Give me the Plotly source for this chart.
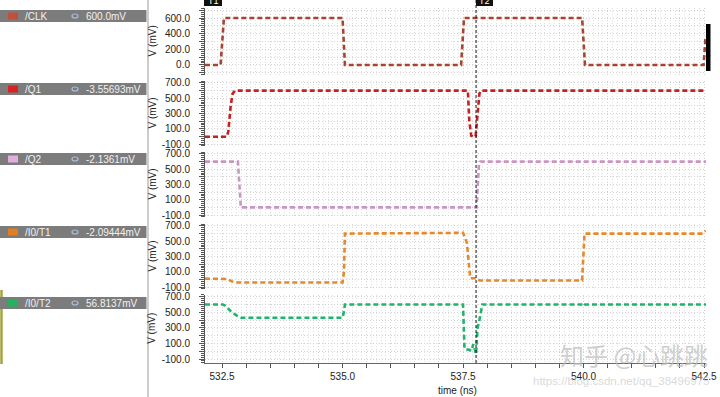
import plotly.graph_objects as go
from plotly.subplots import make_subplots

# ---------------- data ----------------
signal_names = ["/CLK", "/Q1", "/Q2", "/I0/T1", "/I0/T2"]
readouts = ["600.0mV", "-3.55693mV", "-2.1361mV", "-2.09444mV", "56.8137mV"]
line_colors = ["#a8432f", "#c81f1f", "#c995c3", "#e5892c", "#1fb46c"]
swatch_colors = ["#c0503a", "#d42424", "#e2aee0", "#e07e22", "#22b35f"]

clk_t = [532.147, 532.47, 532.54, 535.00, 535.05, 537.46, 537.52, 539.97, 540.03, 542.49, 542.53]
clk_v = [0, 0, 600, 600, 0, 0, 600, 600, 0, 0, 350]

q1_t = [532.147, 532.60, 532.63, 532.68, 532.72, 532.77, 537.60, 537.63, 537.67, 537.72, 537.76, 537.80, 537.84, 537.87, 542.54]
q1_v = [-5, -5, 60, 400, 560, 600, 600, 200, 10, -10, 0, 300, 560, 600, 600]

q2_t = [532.147, 532.83, 532.86, 532.89, 537.78, 537.80, 537.83, 537.86, 542.54]
q2_v = [600, 600, 300, 0, 0, 300, 560, 600, 600]

t1_t = [532.147, 532.55, 532.60, 532.70, 532.77, 535.00, 535.03, 535.05, 537.50, 537.58, 537.65, 537.77, 537.85, 539.97, 540.02, 542.47, 542.53]
t1_v = [10, 10, 5, -25, -40, -40, 100, 600, 610, 480, 15, 15, -15, -15, 600, 600, 640]

t2_t = [532.147, 532.52, 532.58, 532.70, 532.80, 532.90, 535.00, 535.02, 535.05, 537.50, 537.53, 537.68, 537.71, 537.73, 537.77, 537.80, 537.84, 537.90, 539.98, 540.00, 540.03, 542.54]
t2_v = [600, 600, 580, 500, 460, 430, 430, 480, 600, 600, 30, 10, 90, 60, -40, 300, 400, 600, 600, 580, 600, 600]

series_t = [clk_t, q1_t, q2_t, t1_t, t2_t]
series_v = [clk_v, q1_v, q2_v, t1_v, t2_v]

x_tick_values = [532.5 + 0.5 * i for i in range(21)]
x_label_values = [532.5, 535.0, 537.5, 540.0, 542.5]
clk_grid_values = [-100, 0, 100, 200, 300, 400, 500, 600, 700]
clk_label_values = [0, 200, 400, 600]
other_grid_values = [-100, 0, 100, 200, 300, 400, 500, 600, 700]
other_label_values = [-100, 100, 300, 500, 700]
cursor_time = 537.77
watermark = "知乎 @心跳跳"
csdn_url = "https://blog.csdn.net/qq_38496975"

# ---------------- layout helpers ----------------
W, H = 720, 397
ML, MR, MT, MB = 205, 14, 8, 34
PW = W - ML - MR
PH = H - MT - MB


def px(xp):
    return (xp - ML) / PW


def py(yp):
    return (H - MB - yp) / PH


domains = [(py(74.8), 1.0), (py(146), py(81)), (py(217), py(152)), (py(289), py(224)), (0.0, py(294.7))]
ranges = [[-126, 728], [-126, 726], [-126, 726], [-126, 726], [-151, 726]]
bar_tops = [10, 83, 153, 226, 297]

FONT = "Liberation Sans"
GRID = "#d2d2d2"
GDASH = "1px,2px"

fig = make_subplots(rows=5, cols=1, shared_xaxes=True)

for i in range(5):
    fig.add_trace(go.Scatter(
        x=series_t[i], y=series_v[i], mode="lines",
        line=dict(color=line_colors[i], width=2.6, dash="5px,3px"),
        showlegend=False, hoverinfo="skip"), row=i + 1, col=1)

for i in range(5):
    n = "" if i == 0 else str(i + 1)
    gv = clk_grid_values if i == 0 else other_grid_values
    lv = clk_label_values if i == 0 else other_label_values
    fig.layout["yaxis" + n].update(
        domain=list(domains[i]), range=ranges[i],
        tickmode="array", tickvals=gv, ticktext=[("%.1f" % v) if v in lv else "" for v in gv],
        ticks="outside", ticklen=5, tickcolor="#555", tickwidth=1,
        ticklabelstandoff=7,
        showline=True, linecolor="#555", linewidth=1,
        showgrid=True, gridcolor=GRID, griddash=GDASH, gridwidth=1,
        zeroline=False,
        tickfont=dict(family=FONT, size=10, color="#222"),
        minor=dict(tickmode="linear", tick0=0, dtick=25, ticks="outside", ticklen=3,
                   tickcolor="#555", showgrid=False),
    )
    last = (i == 4)
    fig.layout["xaxis" + n].update(
        range=[532.147, 542.54],
        tickmode="array", tickvals=x_tick_values,
        ticktext=[("%.1f" % v) if v in x_label_values else "" for v in x_tick_values],
        showticklabels=last, ticks="outside" if last else "", ticklen=4, tickcolor="#555",
        showline=last, linecolor="#666", linewidth=1,
        showgrid=True, gridcolor=GRID, griddash=GDASH, gridwidth=1,
        zeroline=False,
        tickfont=dict(family=FONT, size=10, color="#222"),
        minor=dict(tickmode="linear", tick0=532.5, dtick=0.1, ticks="", showgrid=True,
                   gridcolor="#e2e2e2", griddash=GDASH),
    )

shapes = []
annotations = []

# left panel
shapes.append(dict(type="line", xref="paper", yref="paper", x0=px(148), x1=px(148), y0=py(0), y1=py(397),
                   line=dict(color="#9a9a9a", width=1)))
shapes.append(dict(type="line", xref="paper", yref="paper", x0=px(1.5), x1=px(1.5), y0=py(290), y1=py(364),
                   line=dict(color="#a4a43c", width=2.5)))
for i in range(5):
    top = bar_tops[i]
    shapes.append(dict(type="rect", xref="paper", yref="paper", x0=px(0), x1=px(146.5), y0=py(top + 12), y1=py(top),
                       fillcolor="#7c7c7c", line=dict(width=0)))
    shapes.append(dict(type="rect", xref="paper", yref="paper", x0=px(8), x1=px(18), y0=py(top + 9.5), y1=py(top + 2.5),
                       fillcolor=swatch_colors[i], line=dict(width=0)))
    shapes.append(dict(type="circle", xref="paper", yref="paper", x0=px(72), x1=px(78), y0=py(top + 8), y1=py(top + 4),
                       fillcolor="rgba(0,0,0,0)", line=dict(color="#a9bedb", width=1.2)))
    annotations.append(dict(text=signal_names[i], xref="paper", yref="paper", x=px(23), y=py(top + 6.3),
                            xanchor="left", yanchor="middle", showarrow=False,
                            font=dict(family=FONT, size=10, color="#f2f2f2")))
    annotations.append(dict(text=readouts[i], xref="paper", yref="paper", x=px(84), y=py(top + 6.3),
                            xanchor="left", yanchor="middle", showarrow=False,
                            font=dict(family=FONT, size=10, color="#f2f2f2")))
    cy = (domains[i][0] + domains[i][1]) / 2
    annotations.append(dict(text="V (mV)", xref="paper", yref="paper", x=px(152), y=cy,
                            xanchor="center", yanchor="middle", textangle=-90, showarrow=False,
                            font=dict(family=FONT, size=10, color="#222")))

# cursors
shapes.append(dict(type="line", xref="x5", yref="paper", x0=cursor_time, x1=cursor_time, y0=0, y1=py(0),
                   line=dict(color="#111", width=1, dash="3px,2px")))
shapes.append(dict(type="rect", xref="paper", yref="paper", x0=px(204), x1=px(222), y0=py(6), y1=py(0),
                   fillcolor="#111", line=dict(width=0)))
shapes.append(dict(type="rect", xref="paper", yref="paper", x0=px(476), x1=px(493), y0=py(6), y1=py(0),
                   fillcolor="#111", line=dict(width=0)))
annotations.append(dict(text="T1", xref="paper", yref="paper", x=px(213), y=py(1), xanchor="center", yanchor="middle",
                        showarrow=False, font=dict(family=FONT, size=9, color="white")))
annotations.append(dict(text="T2", xref="paper", yref="paper", x=px(484.5), y=py(1), xanchor="center", yanchor="middle",
                        showarrow=False, font=dict(family=FONT, size=9, color="white")))
shapes.append(dict(type="rect", xref="paper", yref="paper", x0=px(706), x1=px(710.5), y0=py(71), y1=py(24),
                   fillcolor="#000", line=dict(width=0)))

annotations.append(dict(text="time (ns)", xref="paper", yref="paper", x=px(457), y=py(391),
                        xanchor="center", yanchor="middle", showarrow=False,
                        font=dict(family=FONT, size=10, color="#222")))
annotations.append(dict(text=watermark, xref="paper", yref="paper", x=px(634), y=py(354),
                        xanchor="center", yanchor="middle", showarrow=False,
                        font=dict(family="Noto Sans CJK SC", size=24, color="rgba(190,190,190,0.75)")))
annotations.append(dict(text=csdn_url, xref="paper", yref="paper", x=px(531), y=py(381),
                        xanchor="left", yanchor="middle", showarrow=False,
                        font=dict(family=FONT, size=11.5, color="rgba(200,200,200,0.7)")))

fig.update_layout(width=W, height=H, margin=dict(l=ML, r=MR, t=MT, b=MB, autoexpand=False),
                  paper_bgcolor="white", plot_bgcolor="white",
                  shapes=shapes, annotations=annotations, showlegend=False)

fig.write_html("out.html", config={"displayModeBar": False},
               post_script="document.body.style.margin='0';document.body.style.overflow='hidden';")
